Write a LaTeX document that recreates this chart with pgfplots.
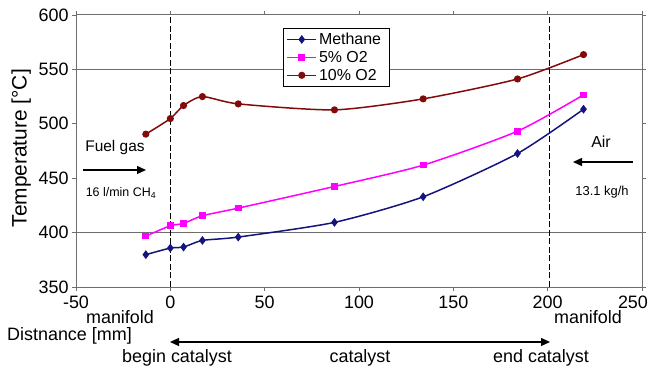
\documentclass[border=0pt]{standalone}
\usepackage{fontspec}
\setmainfont{Liberation Sans}
\usepackage{pgfplots}
\pgfplotsset{compat=1.18}
\usetikzlibrary{arrows.meta}
\definecolor{cmeth}{RGB}{20,20,125}
\definecolor{cfive}{RGB}{255,0,255}
\definecolor{cten}{RGB}{130,10,10}
\definecolor{axgray}{RGB}{110,110,110}
\begin{document}
\begin{tikzpicture}
\path[use as bounding box] (0,0) rectangle (649bp,368bp);
\begin{axis}[
  at={(76bp,81bp)}, anchor=south west,
  scale only axis, width=566bp, height=272bp,
  xmin=-50, xmax=250, ymin=350, ymax=600,
  xtick={-50,0,...,250}, ytick={350,400,...,600},
  xticklabels={-50,0,50,100,150,200,{\raisebox{2bp}{\makebox[0pt][l]{\hspace*{-24bp}250}}}},
  tick align=outside, major tick length=4bp,
  tick style={axgray, line width=0.8bp},
  axis line style={axgray, line width=1bp},
  /pgf/number format/assume math mode=true,
  ticklabel style={font=\fontsize{18}{20}\selectfont},
  xticklabel style={yshift=-1bp},
  ylabel={Temperature [°C]},
  ylabel style={at={(axis description cs:-0.097,0.51)}, anchor=center, rotate=0, font=\fontsize{21}{24}\selectfont},
  clip=false,
  legend style={at={(rel axis cs:0.366,0.952)}, anchor=north west,
    font=\fontsize{16}{17}\selectfont, draw=black, line width=0.8bp,
    fill=white, inner xsep=3bp, inner ysep=2.5bp, row sep=1.2bp},
  legend cell align=left,
  legend image code/.code={\draw[mark repeat=2,mark phase=2] plot coordinates {(0bp,0bp)(14.5bp,0bp)(29bp,0bp)};},
]
\addplot[axgray, line width=1bp, forget plot] coordinates {(-50,400)(250,400)};
\addplot[axgray, line width=1bp, forget plot] coordinates {(-50,550)(250,550)};
\addplot[black, dash pattern=on 6bp off 2.5bp, line width=1.2bp, forget plot] coordinates {(0,350)(0,600)};
\addplot[black, dash pattern=on 6bp off 2.5bp, line width=1.2bp, forget plot] coordinates {(201,350)(201,600)};
\addplot[cmeth, line width=1.5bp, smooth, tension=0.4, mark=diamond*, mark size=3.2bp, mark options={solid}] coordinates {
(-13,379.7)(0,385.8)(7,386.7)(17,392.8)(36,395.9)(87,409.4)(134,432.9)(184,472.7)(219,513.4)};
\addlegendentry{Methane}
\addplot[cfive, line width=1.5bp, smooth, tension=0.4, mark=square*, mark size=2.6bp] coordinates {
(-13,396.8)(0,406.3)(7,408.4)(17,415.5)(36,422.5)(87,442.4)(134,462.0)(184,493.2)(219,526.6)};
\addlegendentry{5\% O2}
\addplot[cten, line width=1.5bp, smooth, tension=0.4, mark=*, mark size=2.8bp] coordinates {
(-13,490.5)(0,504.8)(7,516.8)(17,525.0)(36,518.3)(87,512.8)(134,522.9)(184,541.2)(219,563.6)};
\addlegendentry{10\% O2\hspace*{8bp}}
\end{axis}
% annotations (page coordinates in bp)
\node[font=\fontsize{15.5}{17}\selectfont] at (115bp,220bp) {Fuel gas};
\draw[line width=1.3bp, -{Triangle[length=9bp,width=8bp]}] (83bp,198bp) -- (146bp,198bp);
\node[font=\fontsize{12.5}{14}\selectfont] at (121bp,175bp) {16 l/min CH\textsubscript{4}};
\node[font=\fontsize{16}{18}\selectfont] at (601bp,226bp) {Air};
\draw[line width=1.3bp, -{Triangle[length=9bp,width=8bp]}] (633bp,206bp) -- (573bp,206bp);
\node[font=\fontsize{13}{15}\selectfont] at (602bp,176bp) {13.1 kg/h};
\node[font=\fontsize{18}{20}\selectfont] at (120bp,51bp) {manifold};
\node[font=\fontsize{18}{20}\selectfont] at (588bp,51bp) {manifold};
\node[font=\fontsize{18}{20}\selectfont, anchor=west, inner sep=0pt] at (7bp,32bp) {Distnance [mm]};
\draw[line width=1.3bp, {Triangle[length=9bp,width=8bp]}-{Triangle[length=9bp,width=8bp]}] (170bp,26bp) -- (550bp,26bp);
\node[font=\fontsize{18}{20}\selectfont] at (177bp,10bp) {begin catalyst};
\node[font=\fontsize{18}{20}\selectfont] at (360bp,10bp) {catalyst};
\node[font=\fontsize{18}{20}\selectfont] at (541bp,10bp) {end catalyst};
\end{tikzpicture}
\end{document}
